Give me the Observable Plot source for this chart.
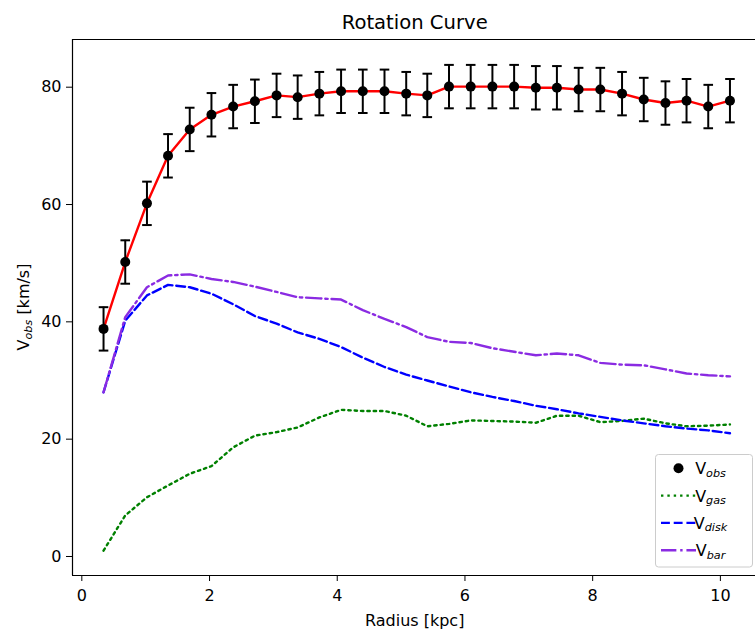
<!DOCTYPE html>
<html>
<head>
<meta charset="utf-8">
<script src="https://cdn.jsdelivr.net/npm/d3@7"></script>
<script src="https://cdn.jsdelivr.net/npm/@observablehq/plot@0.6"></script>
<style>
  html, body { margin: 0; padding: 0; background: #fff; }
  #chart { width: 755px; height: 635px; overflow: hidden; }
  #chart svg { max-width: none; }
</style>
</head>
<body>
<div id="chart"></div>
<script>
// ---- data ----
const radius = [0.34,0.68,1.02,1.35,1.69,2.03,2.37,2.71,3.05,3.38,3.72,4.06,4.40,4.74,5.08,5.41,5.75,6.09,6.43,6.77,7.11,7.44,7.78,8.12,8.46,8.80,9.14,9.47,9.81,10.15];
const vObs  = [38.8,50.2,60.2,68.3,72.8,75.3,76.7,77.6,78.6,78.3,78.9,79.3,79.3,79.3,78.9,78.6,80.1,80.1,80.1,80.1,79.9,79.9,79.6,79.6,78.9,77.9,77.3,77.7,76.7,77.7];
const vErr  = [3.7,3.7,3.7,3.7,3.7,3.7,3.7,3.7,3.7,3.7,3.7,3.7,3.7,3.7,3.7,3.7,3.7,3.7,3.7,3.7,3.7,3.7,3.7,3.7,3.7,3.7,3.7,3.7,3.7,3.7];
const vGas  = [1.0,7.0,10.1,12.1,14.1,15.4,18.6,20.6,21.2,22.0,23.7,25.0,24.8,24.8,24.0,22.2,22.6,23.2,23.1,23.0,22.8,24.0,24.0,22.9,23.1,23.5,22.7,22.2,22.3,22.5];
const vDisk = [28.0,40.2,44.5,46.3,45.9,44.8,43.0,41.0,39.7,38.2,37.1,35.7,33.9,32.3,31.0,30.0,29.0,28.0,27.2,26.5,25.7,25.1,24.4,23.8,23.2,22.7,22.2,21.8,21.5,21.0];
const vBar  = [28.0,40.8,45.9,47.9,48.1,47.3,46.8,46.0,45.1,44.2,44.0,43.8,42.0,40.5,39.1,37.4,36.6,36.4,35.5,34.9,34.3,34.6,34.3,33.0,32.7,32.6,31.9,31.2,30.9,30.7];
const xTicks = [0,2,4,6,8,10];
const yTicks = [0,20,40,60,80];
const xDomain = [-0.146, 10.55];
const yDomain = [-3.24, 88.13];
const titleText = "Rotation Curve";
const xLabel = "Radius [kpc]";

const rows = radius.map((r, i) => ({
  r, obs: vObs[i], lo: vObs[i] - vErr[i], hi: vObs[i] + vErr[i],
  gas: vGas[i], disk: vDisk[i], bar: vBar[i]
}));

const LW = 2.4;
const capSymbol = { draw(ctx, size) { const w = Math.sqrt(size / Math.PI); ctx.moveTo(-w, 0); ctx.lineTo(w, 0); } };

const W = 755, H = 635, ML = 72, MR = 0, MT = 39, MB = 60;

const chart = Plot.plot({
  width: W, height: H,
  marginLeft: ML, marginRight: MR, marginTop: MT, marginBottom: MB,
  style: { fontFamily: "DejaVu Sans", fontSize: "16px", background: "white", color: "black", overflow: "visible" },
  x: { domain: xDomain },
  y: { domain: yDomain },
  marks: [
    Plot.axisX({ ticks: xTicks, tickSize: 6, tickPadding: 8, tickFormat: d => String(d), label: null, fontSize: 16 }),
    Plot.axisY({ ticks: yTicks, tickSize: 6, tickPadding: 5, tickFormat: d => String(d), label: null, fontSize: 16 }),
    Plot.ruleX([xDomain[0]], { stroke: "black", strokeWidth: 1.2 }),
    Plot.ruleY([yDomain[0], yDomain[1]], { stroke: "black", strokeWidth: 1.2 }),
    Plot.line(rows, { x: "r", y: "obs", stroke: "#ff0000", strokeWidth: LW }),
    Plot.line(rows, { x: "r", y: "gas", stroke: "#008000", strokeWidth: LW, strokeDasharray: "2.4,3.96" }),
    Plot.line(rows, { x: "r", y: "disk", stroke: "#0000ff", strokeWidth: LW, strokeDasharray: "8.88,3.84" }),
    Plot.line(rows, { x: "r", y: "bar", stroke: "#8a2be2", strokeWidth: LW, strokeDasharray: "15.36,3.84,2.4,3.84" }),
    Plot.ruleX(rows, { x: "r", y1: "lo", y2: "hi", stroke: "black", strokeWidth: 2 }),
    Plot.dot(rows, { x: "r", y: "lo", symbol: capSymbol, r: 4.8, stroke: "black", strokeWidth: 2, fill: "none" }),
    Plot.dot(rows, { x: "r", y: "hi", symbol: capSymbol, r: 4.8, stroke: "black", strokeWidth: 2, fill: "none" }),
    Plot.dot(rows, { x: "r", y: "obs", r: 5, fill: "black", stroke: "none" })
  ]
});

document.getElementById("chart").appendChild(chart);
chart.style.maxWidth = "none";

const svg = d3.select(chart);
const font = "DejaVu Sans";

// title
svg.append("text").attr("x", 414.7).attr("y", 29.4)
  .attr("text-anchor", "middle").attr("font-family", font).attr("font-size", 19.6)
  .attr("fill", "black").text(titleText);

// x label
svg.append("text").attr("x", 414.7).attr("y", 626)
  .attr("text-anchor", "middle").attr("font-family", font).attr("font-size", 16)
  .attr("fill", "black").text(xLabel);

// y label with subscript
const yl = svg.append("text").attr("transform", "translate(29,307) rotate(-90)")
  .attr("text-anchor", "middle").attr("font-family", font).attr("font-size", 16).attr("fill", "black");
yl.append("tspan").text("V");
yl.append("tspan").attr("font-size", 11.2).attr("font-style", "italic").attr("dy", 2.5).text("obs");
yl.append("tspan").attr("dy", -2.5).text(" [km/s]");

// legend
const lg = svg.append("g");
lg.append("rect").attr("x", 655.5).attr("y", 454.5).attr("width", 97).attr("height", 112.5)
  .attr("rx", 3).attr("fill", "white").attr("fill-opacity", 0.8).attr("stroke", "#cccccc").attr("stroke-width", 1);
const items = [
  { sub: "obs", kind: "dot" },
  { sub: "gas", color: "#008000", dash: "2.4,3.96" },
  { sub: "disk", color: "#0000ff", dash: "8.88,3.84" },
  { sub: "bar", color: "#8a2be2", dash: "15.36,3.84,2.4,3.84" }
];
items.forEach((it, i) => {
  const cy = 468.3 + i * 27.3;
  if (it.kind === "dot") {
    lg.append("circle").attr("cx", 678.5).attr("cy", cy).attr("r", 5).attr("fill", "black");
  } else {
    lg.append("line").attr("x1", 661).attr("x2", 696).attr("y1", cy).attr("y2", cy)
      .attr("stroke", it.color).attr("stroke-width", LW).attr("stroke-dasharray", it.dash);
  }
  const t = lg.append("text").attr("x", 710.5).attr("y", cy + 6)
    .attr("font-family", font).attr("font-size", 16).attr("fill", "black");
  t.append("tspan").text("V");
  t.append("tspan").attr("font-size", 11.2).attr("font-style", "italic").attr("dy", 2.5).text(it.sub);
});
</script>
</body>
</html>
